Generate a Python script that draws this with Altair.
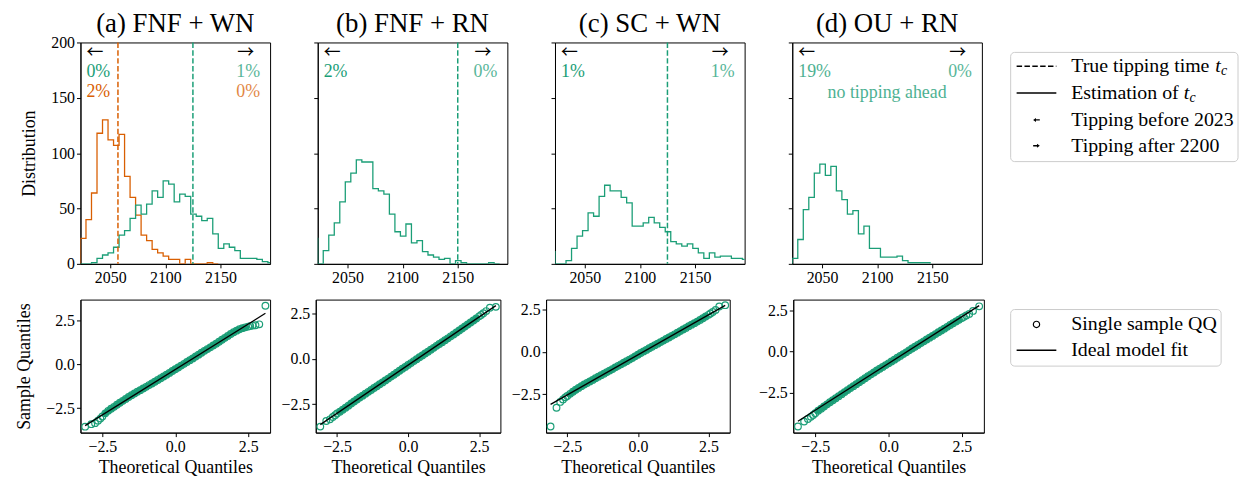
import altair as alt
import pandas as pd

FONT = "Liberation Serif"
ARROW_FONT = "Noto Sans CJK SC"
GREEN = "#1b9e77"
ORANGE = "#d95f02"

PANEL_TITLES = ["(a) FNF + WN", "(b) FNF + RN", "(c) SC + WN", "(d) OU + RN"]

# ---------------- histogram data (counts per 5-year bin, left edges 2023, 2028, ...)
BIN_EDGES = list(range(2023, 2199, 5))
YEAR_TICKS = [2050, 2100, 2150]
COUNT_TICKS = [0, 50, 100, 150, 200]

HIST_A_GREEN = [0, 0, 1, 5, 8, 10, 15, 26, 30, 41, 53, 45, 54, 66, 60, 75, 72, 56,
                63, 61, 45, 43, 39, 41, 27, 14, 18, 15, 12, 5, 5, 5, 4, 2, 1]
HIST_A_ORANGE = [23, 40, 64, 118, 130, 112, 107, 117, 79, 60, 44, 26, 21, 13, 10, 7,
                 4, 4, 0, 4, 0, 0, 0, 1, 0]
HIST_B = [0, 12, 26, 37, 56, 74, 82, 94, 92, 92, 68, 66, 63, 45, 29, 25, 36, 19, 21,
          11, 8, 6, 4, 5, 0, 3, 1, 0, 0, 0, 0, 1, 0]
HIST_C = [0, 0, 3, 14, 25, 30, 46, 43, 61, 71, 66, 66, 60, 55, 34, 34, 37, 42, 37, 33,
          29, 20, 18, 16, 18, 14, 10, 5, 10, 6, 7, 7, 5, 5, 4]
HIST_D = [5, 22, 49, 60, 82, 90, 80, 88, 66, 58, 45, 48, 27, 34, 14, 14, 6, 6, 6, 7,
          3, 1, 1, 1, 1]
BEFORE_2023_B = 23
BEFORE_2023_C = 11

TRUE_TC_A = [2125, 2057]
TRUE_TC_B = [2150]
TRUE_TC_C = [2125]

BEFORE_A = ["0%", "2%"]
AFTER_A = ["1%", "0%"]
BEFORE_B = ["2%"]
AFTER_B = ["0%"]
BEFORE_C = ["1%"]
AFTER_C = ["1%"]
BEFORE_D = ["19%"]
AFTER_D = ["0%"]
NOTE_D = "no tipping ahead"

# ---------------- QQ data
THEO_Q = [-3.09, -2.88, -2.75, -2.65, -2.57, -2.5,
          -2.4, -2.3, -2.2, -2.1, -2.0, -1.9, -1.8, -1.7, -1.6, -1.5, -1.4, -1.3,
          -1.2, -1.1, -1.0, -0.9, -0.8, -0.7, -0.6, -0.5, -0.4, -0.3, -0.2, -0.1,
          0.0, 0.1, 0.2, 0.3, 0.4, 0.5, 0.6, 0.7, 0.8, 0.9, 1.0, 1.1, 1.2, 1.3, 1.4,
          1.5, 1.6, 1.7, 1.8, 1.9, 2.0, 2.1, 2.2, 2.3, 2.4,
          2.5, 2.57, 2.65, 2.75, 2.88, 3.09]
SAMPLE_A = [-3.56, -3.42, -3.36, -3.22, -3.10, -2.98,
            -2.80, -2.66, -2.54, -2.43, -2.31, -2.20, -2.09, -1.98, -1.87, -1.77, -1.67, -1.57,
            -1.48, -1.38, -1.29, -1.19, -1.10, -1.00, -0.90, -0.80, -0.70, -0.60, -0.50, -0.39,
            -0.29, -0.19, -0.08, 0.02, 0.13, 0.23, 0.33, 0.44, 0.54, 0.65, 0.76, 0.86, 0.96, 1.07, 1.17,
            1.28, 1.39, 1.50, 1.61, 1.72, 1.82, 1.91, 1.99, 2.05, 2.10,
            2.14, 2.17, 2.20, 2.22, 2.27, 3.33]
SAMPLE_B = [-3.73, -3.42, -3.33, -3.20, -3.10, -3.01,
            -2.91, -2.80, -2.69, -2.58, -2.46, -2.35, -2.24, -2.13, -2.03, -1.92, -1.82, -1.72,
            -1.61, -1.51, -1.40, -1.30, -1.19, -1.09, -0.98, -0.88, -0.77, -0.66, -0.55, -0.45,
            -0.34, -0.24, -0.13, -0.03, 0.08, 0.18, 0.29, 0.39, 0.50, 0.60, 0.71, 0.81, 0.91, 1.02, 1.12,
            1.23, 1.33, 1.44, 1.55, 1.66, 1.77, 1.88, 1.99, 2.10, 2.21,
            2.33, 2.41, 2.50, 2.62, 2.80, 2.85]
SAMPLE_C = [-4.40, -3.29, -2.95, -2.80, -2.68, -2.60,
            -2.47, -2.35, -2.23, -2.12, -2.02, -1.92, -1.83, -1.74, -1.65, -1.55, -1.46, -1.37,
            -1.28, -1.19, -1.10, -1.01, -0.91, -0.82, -0.73, -0.64, -0.55, -0.45, -0.36, -0.26,
            -0.16, -0.06, 0.03, 0.12, 0.22, 0.31, 0.40, 0.49, 0.58, 0.67, 0.77, 0.86, 0.95, 1.04, 1.14,
            1.23, 1.33, 1.42, 1.52, 1.61, 1.70, 1.79, 1.89, 1.99, 2.09,
            2.19, 2.27, 2.36, 2.48, 2.68, 2.76]
SAMPLE_D = [-4.56, -4.26, -4.10, -3.97, -3.86, -3.75,
            -3.60, -3.47, -3.34, -3.21, -3.08, -2.96, -2.84, -2.71, -2.59, -2.46, -2.34, -2.22,
            -2.10, -1.98, -1.86, -1.74, -1.62, -1.50, -1.38, -1.27, -1.15, -1.04, -0.93, -0.82,
            -0.71, -0.60, -0.49, -0.37, -0.26, -0.15, -0.04, 0.08, 0.19, 0.30, 0.41, 0.52, 0.63, 0.74, 0.85,
            0.96, 1.07, 1.18, 1.29, 1.40, 1.51, 1.62, 1.73, 1.84, 1.94,
            2.05, 2.12, 2.20, 2.30, 2.48, 2.76]
# ideal fit line: sample value at the first and last theoretical quantile
FIT_A = [-3.50, 2.90]
FIT_B = [-3.62, 2.92]
FIT_C = [-3.09, 2.75]
FIT_D = [-4.24, 2.80]
QQ_TICKS = [-2.5, 0.0, 2.5]

LEGEND_TOP = ["True tipping time", "Estimation of", "Tipping before 2023", "Tipping after 2200"]
LEGEND_BOTTOM = ["Single sample QQ", "Ideal model fit"]

# ---------------- layout
HW, HH = 191, 223          # histogram panel size
HSPACE = 48
QW = [191, 186, 185, 192]  # QQ panel widths
QH = 134
QSPACE = 10
Q_GAPS = [46, 46, 64]      # plot-to-plot gaps in the QQ row
PLOT_LEFT = 77             # absolute x of first plot area
LEG_LEFT = 1014            # absolute x of legend boxes


def one(label):
    return pd.DataFrame({"label": [label]})


def step_frame(counts, pre=None):
    xs, ys = [], []
    if pre is not None:
        xs += [BIN_EDGES[0] - 5, BIN_EDGES[0] - 5]
        ys += [0, pre]
    else:
        xs.append(BIN_EDGES[0])
        ys.append(0)
    for e, c in zip(BIN_EDGES, counts):
        xs.append(e)
        ys.append(c)
    xs.append(BIN_EDGES[len(counts)])
    ys.append(0)
    return pd.DataFrame({"i": list(range(len(xs))), "year": xs, "count": ys})


def text_layer(label, x, y, align, color, size=18, opacity=1.0, style="normal", font=FONT):
    return alt.Chart(one(label)).mark_text(
        align=align, baseline="middle", font=font, fontSize=size, color=color,
        opacity=opacity, fontStyle=style
    ).encode(text="label:N", x=alt.value(x), y=alt.value(y))


def hist_panel(title, series, tcs, before, after, colors, first, note=None, left_opacity=1.0):
    x = alt.X("year:Q", scale=alt.Scale(domain=[2023, 2195], nice=False, zero=False),
              axis=alt.Axis(values=YEAR_TICKS, format="d", title=None))
    if first:
        yaxis = alt.Axis(values=COUNT_TICKS, title="Distribution")
    else:
        yaxis = alt.Axis(values=COUNT_TICKS, labels=False, title=None)
    y = alt.Y("count:Q", scale=alt.Scale(domain=[0, 200], nice=False), axis=yaxis)
    layers = []
    for df, col in series:
        layers.append(alt.Chart(df).mark_line(interpolate="step-after", clip=True,
                                              color=col, strokeWidth=1.3)
                      .encode(x=x, y=y, order="i:Q"))
    for yr, col in tcs:
        layers.append(alt.Chart(pd.DataFrame({"year": [yr]}))
                      .mark_rule(color=col, strokeDash=[5.5, 2.4], strokeWidth=1.5)
                      .encode(x=x))
    # panel title, placed above the plot area
    layers.append(text_layer(title, HW / 2, -18.5, "center", "black", size=27))
    layers.append(text_layer("←", 6, 11, "left", "black", size=17, font=ARROW_FONT))
    layers.append(text_layer("→", HW - 16, 11, "right", "black", size=17, font=ARROW_FONT))
    for j, (t, c) in enumerate(zip(before, colors)):
        layers.append(text_layer(t, 6, 30 + 20 * j, "left", c, opacity=left_opacity))
    for j, (t, c) in enumerate(zip(after, colors)):
        layers.append(text_layer(t, HW - 10, 30 + 20 * j, "right", c, opacity=0.75))
    if note:
        layers.append(text_layer(note, HW / 2, 51, "center", GREEN, opacity=0.8))
    return alt.layer(*layers).properties(width=HW, height=HH)


def qq_panel(sample, fit, ydom, width, first):
    x = alt.X("theo:Q", scale=alt.Scale(domain=[-3.25, 3.25], nice=False, zero=False),
              axis=alt.Axis(values=QQ_TICKS, format=".1f", title="Theoretical Quantiles"))
    y = alt.Y("sample:Q", scale=alt.Scale(domain=ydom, nice=False, zero=False),
              axis=alt.Axis(values=QQ_TICKS, format=".1f",
                            title="Sample Quantiles" if first else None))
    df = pd.DataFrame({"theo": THEO_Q, "sample": sample})
    # dense overlapping circles in the body of the distribution look like a solid band
    band = alt.Chart(df).transform_filter(
        (alt.datum.theo >= -2.45) & (alt.datum.theo <= 2.45)
    ).mark_line(color=GREEN, strokeWidth=6, strokeCap="round").encode(x=x, y=y)
    pts = alt.Chart(df).mark_point(
        shape="circle", filled=False, color=GREEN, size=45, strokeWidth=1.2, opacity=1
    ).encode(x=x, y=y)
    line = alt.Chart(pd.DataFrame({"theo": [THEO_Q[0], THEO_Q[-1]], "sample": fit})).mark_line(
        color="black", strokeWidth=1.3
    ).encode(x=x, y=y)
    return alt.layer(band, pts, line).properties(width=width, height=QH)


def spacer(width, height):
    return alt.Chart(one("s")).mark_point(opacity=0).encode(
        x=alt.value(0), y=alt.value(0)
    ).properties(width=width, height=height, view=alt.ViewBackground(strokeOpacity=0))


LEFT_ARROW = "M 1 -0.2 L -0.15 -0.2 L -0.15 -0.6 L -1 0 L -0.15 0.6 L -0.15 0.2 L 1 0.2 Z"
RIGHT_ARROW = "M -1 -0.2 L 0.15 -0.2 L 0.15 -0.6 L 1 0 L 0.15 0.6 L 0.15 0.2 L -1 0.2 Z"
LEG_SIZE = 20


def legend_top():
    origin = PLOT_LEFT + 4 * HW + 4 * HSPACE
    bx0 = LEG_LEFT - origin
    width = bx0 + 229
    rows = [24, 51, 78, 104]
    lx0, lx1, mx, tx = bx0 + 6, bx0 + 46, bx0 + 26, bx0 + 61
    layers = [alt.Chart(one("box")).mark_rect(fill="white", stroke="#cccccc", strokeWidth=1,
                                              cornerRadius=4)
              .encode(x=alt.value(bx0), x2=alt.value(width), y=alt.value(10), y2=alt.value(120))]
    layers.append(alt.Chart(one("l0")).mark_rule(color="black", strokeWidth=1.5, strokeDash=[5.5, 2.4])
                  .encode(x=alt.value(lx0), x2=alt.value(lx1), y=alt.value(rows[0])))
    layers.append(alt.Chart(one("l1")).mark_rule(color="black", strokeWidth=1.5)
                  .encode(x=alt.value(lx0), x2=alt.value(lx1), y=alt.value(rows[1])))
    layers.append(alt.Chart(one("l2")).mark_point(shape=LEFT_ARROW, filled=True, color="black",
                                                  size=45, opacity=1)
                  .encode(x=alt.value(mx), y=alt.value(rows[2])))
    layers.append(alt.Chart(one("l3")).mark_point(shape=RIGHT_ARROW, filled=True, color="black",
                                                  size=45, opacity=1)
                  .encode(x=alt.value(mx), y=alt.value(rows[3])))
    for lab, yv in zip(LEGEND_TOP, rows):
        layers.append(text_layer(lab, tx, yv, "left", "black", size=LEG_SIZE))
    # italic t with subscript c after the first two labels (Times metrics)
    widths = [7.25 * LEG_SIZE, 5.667 * LEG_SIZE]
    for w, yv in zip(widths, rows[:2]):
        layers.append(text_layer("t", tx + w, yv, "left", "black", size=LEG_SIZE, style="italic"))
        layers.append(text_layer("c", tx + w + 5.8, yv + 5, "left", "black", size=14, style="italic"))
    return alt.layer(*layers).properties(width=width, height=HH,
                                         view=alt.ViewBackground(strokeOpacity=0))


def legend_bottom():
    origin = PLOT_LEFT + sum(QW) + sum(Q_GAPS) + QSPACE
    bx0 = LEG_LEFT - origin
    width = bx0 + 212
    rows = [25, 51]
    lx0, lx1, mx, tx = bx0 + 6, bx0 + 46, bx0 + 26, bx0 + 61
    layers = [alt.Chart(one("box")).mark_rect(fill="white", stroke="#cccccc", strokeWidth=1,
                                              cornerRadius=4)
              .encode(x=alt.value(bx0), x2=alt.value(width), y=alt.value(10), y2=alt.value(67))]
    layers.append(alt.Chart(one("m0")).mark_point(shape="circle", filled=False, color="black",
                                                  size=40, strokeWidth=1.2, opacity=1)
                  .encode(x=alt.value(mx), y=alt.value(rows[0])))
    layers.append(alt.Chart(one("m1")).mark_rule(color="black", strokeWidth=1.5)
                  .encode(x=alt.value(lx0), x2=alt.value(lx1), y=alt.value(rows[1])))
    for lab, yv in zip(LEGEND_BOTTOM, rows):
        layers.append(text_layer(lab, tx, yv, "left", "black", size=LEG_SIZE))
    return alt.layer(*layers).properties(width=width, height=QH,
                                         view=alt.ViewBackground(strokeOpacity=0))


ha = hist_panel(PANEL_TITLES[0],
                [(step_frame(HIST_A_ORANGE), ORANGE), (step_frame(HIST_A_GREEN), GREEN)],
                [(TRUE_TC_A[0], GREEN), (TRUE_TC_A[1], ORANGE)],
                BEFORE_A, AFTER_A, [GREEN, ORANGE], True)
hb = hist_panel(PANEL_TITLES[1], [(step_frame(HIST_B, BEFORE_2023_B), GREEN)],
                [(TRUE_TC_B[0], GREEN)], BEFORE_B, AFTER_B, [GREEN], False)
hc = hist_panel(PANEL_TITLES[2], [(step_frame(HIST_C, BEFORE_2023_C), GREEN)],
                [(TRUE_TC_C[0], GREEN)], BEFORE_C, AFTER_C, [GREEN], False)
hd = hist_panel(PANEL_TITLES[3], [(step_frame(HIST_D), GREEN)], [],
                BEFORE_D, AFTER_D, [GREEN], False, note=NOTE_D, left_opacity=0.8)

qa = qq_panel(SAMPLE_A, FIT_A, [-3.9, 3.68], QW[0], True)
qb = qq_panel(SAMPLE_B, FIT_B, [-4.06, 3.25], QW[1], False)
qc = qq_panel(SAMPLE_C, FIT_C, [-4.76, 3.09], QW[2], False)
qd = qq_panel(SAMPLE_D, FIT_D, [-4.93, 3.17], QW[3], False)

top = alt.hconcat(ha, hb, hc, hd, legend_top(), spacing=HSPACE, bounds="flush")
bottom = alt.hconcat(
    qa, spacer(Q_GAPS[0] - 2 * QSPACE, QH),
    qb, spacer(Q_GAPS[1] - 2 * QSPACE, QH),
    qc, spacer(Q_GAPS[2] - 2 * QSPACE, QH),
    qd, legend_bottom(), spacing=QSPACE, bounds="flush")

chart = alt.vconcat(top, bottom, spacing=10).properties(
    padding={"left": 7, "top": 0, "right": 0, "bottom": 0}
).configure_view(
    stroke="black", strokeWidth=1
).configure_axis(
    domainColor="black", tickColor="black", labelColor="black", titleColor="black",
    labelFont=FONT, titleFont=FONT, labelFontSize=16, titleFontSize=18,
    titleFontWeight="normal", grid=False, tickSize=4, labelPadding=2,
    domainWidth=1, tickWidth=1
).configure_axisY(
    titlePadding=12
).configure_axisX(
    titlePadding=4
)

chart.save("out.html", embed_options={"renderer": "svg", "actions": False})
